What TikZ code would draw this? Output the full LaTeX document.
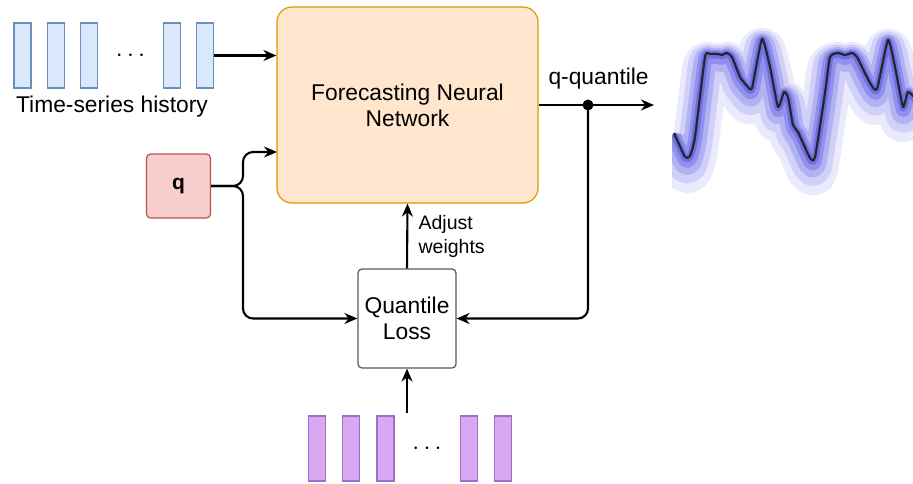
\documentclass[tikz,border=0pt]{standalone}
\usepackage{fontspec}
\setmainfont{Liberation Sans}
\usetikzlibrary{arrows.meta,positioning,calc}

\definecolor{histfill}{RGB}{218,232,252}
\definecolor{histdraw}{RGB}{108,142,191}
\definecolor{nnfill}{RGB}{255,230,204}
\definecolor{nndraw}{RGB}{215,155,0}
\definecolor{qfill}{RGB}{248,206,204}
\definecolor{qdraw}{RGB}{184,84,80}
\definecolor{tgtfill}{RGB}{217,168,242}
\definecolor{tgtdraw}{RGB}{160,110,200}
\definecolor{bandA}{RGB}{234,234,252}
\definecolor{bandB}{RGB}{208,208,248}
\definecolor{bandC}{RGB}{178,178,243}
\definecolor{bandD}{RGB}{145,145,237}
\definecolor{bandE}{RGB}{112,112,230}

\newcommand\medianline{plot[smooth,tension=0.3] coordinates {(674,133) (685,157) (690,156) (695,137) (705,57) (710,54) (718,54) (722,55) (727,53) (732,57) (740,77) (747,86) (752,88) (762,39) (770,67) (778,107) (784,92) (788,97) (793,125) (798,132) (810,158) (815,157) (825,93) (830,57) (838,53) (845,55) (852,53) (857,57) (870,83) (877,89) (888,40) (895,67) (903,107) (908,92) (916,99)}}

\begin{document}
\begin{tikzpicture}[
    x=1pt, y=-1pt,
    font=\fontsize{22.8}{26}\selectfont,
    histbar/.style={rectangle, draw=histdraw, fill=histfill, line width=1.2pt, inner sep=0pt, minimum width=17pt, minimum height=65pt},
    targetbar/.style={rectangle, draw=tgtdraw, fill=tgtfill, line width=1.2pt, inner sep=0pt, minimum width=17pt, minimum height=65pt},
    netbox/.style={rectangle, draw=nndraw, fill=nnfill, line width=1.2pt, rounded corners=15pt, minimum width=261pt, minimum height=196pt, align=center},
    qbox/.style={rectangle, draw=qdraw, fill=qfill, line width=1.2pt, rounded corners=4pt, minimum width=64pt, minimum height=64pt, font=\fontsize{21}{24}\selectfont\bfseries},
    lossbox/.style={rectangle, draw=black!65, fill=white, line width=1.2pt, rounded corners=4pt, minimum width=98pt, minimum height=99pt, align=center},
    arrow/.style={line width=2.1pt, -{Stealth[length=13pt,width=11pt]}},
    dots/.style={font=\fontsize{28}{30}\selectfont}
]
\useasboundingbox (0,0) rectangle (913,483);

% Time-series history
\node[histbar] (h1) at (22.5,55.5) {};
\node[histbar, right=15pt of h1] (h2) {};
\node[histbar, right=15pt of h2] (h3) {};
\node[histbar, right=65pt of h3] (h4) {};
\node[histbar, right=15pt of h4] (h5) {};
\node[dots] (hdots) at ($(h3)!0.5!(h4)$) {$\cdots$};
\node (histlabel) at (112,107) {Time-series history};

% Network and inputs
\node[netbox] (nn) at (407.5,105) {Forecasting Neural\\Network};
\node[qbox] (q) at (178.5,186) {q};
\node[lossbox] (ql) at (407,318.5) {Quantile\\Loss};

% Targets
\node[targetbar] (t1) at (317,448.5) {};
\node[targetbar, right=16pt of t1] (t2) {};
\node[targetbar, right=16pt of t2] (t3) {};
\node[targetbar, right=65pt of t3] (t4) {};
\node[targetbar, right=16pt of t4] (t5) {};
\node[dots] (tdots) at ($(t3)!0.5!(t4)$) {$\cdots$};

\coordinate (qsplit) at (243,186);
\coordinate (nnq) at (277,152);
\coordinate (tgtin) at (407,413);
\coordinate (tap) at (588,105);
\coordinate (outtip) at (654,105);

% Arrows
\draw[arrow] (h5.east) -- (nn.west |- h5.east);
\draw[arrow, rounded corners=10pt] (q.east) -| (qsplit |- nnq) -- (nnq);
\draw[arrow, rounded corners=10pt] (q.east) -| (qsplit |- ql.west) -- (ql.west);
\draw[arrow] (ql.north) -- node[right, align=left, font=\fontsize{19.5}{24}\selectfont, xshift=7pt] {Adjust\\weights} (nn.south);
\draw[arrow] (tgtin) -- (ql.south);
\draw[arrow] (nn.east) -- node[pos=0.52, above=11pt] (qlabel) {q-quantile} (outtip);
\draw[arrow, rounded corners=10pt] (tap) |- (ql.east);
\fill (tap) circle (5.5pt);

% Forecast fan
\begin{scope}
\clip (672,0) rectangle (913,483);
\foreach \w/\s/\c in {46/12/bandA, 34/8.5/bandB, 23/5.5/bandC, 14/3/bandD, 7/1/bandE}
  \draw[line width=\w pt, yshift=-\s pt, \c, line join=round] \medianline;
\draw[line width=2.2pt, black!85, line join=round] \medianline;
\end{scope}

\end{tikzpicture}
\end{document}
